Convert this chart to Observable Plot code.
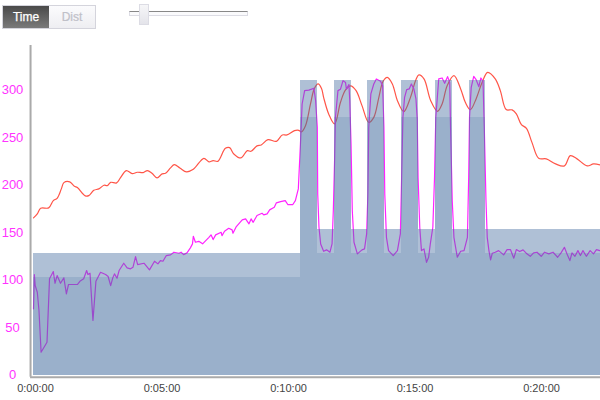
<!DOCTYPE html>
<html>
<head>
<meta charset="utf-8">
<script src="https://cdn.jsdelivr.net/npm/d3@7"></script>
<script src="https://cdn.jsdelivr.net/npm/@observablehq/plot@0.6"></script>
<style>
html,body{margin:0;padding:0;background:#fff;overflow:hidden;font-family:"Liberation Sans",Arial,sans-serif}
#controls{position:relative;height:40px;width:600px}
#seg{position:absolute;left:2px;top:5px;width:94px;height:24px;box-sizing:border-box;border:1px solid #d4d4dc;display:flex;font-size:12px;line-height:22px;text-align:center}
#seg .on{width:46px;background:linear-gradient(#4a4a4a,#7a7a7a);color:#fff;-webkit-text-stroke:0.25px #fff}
#seg .off{flex:1;background:linear-gradient(#fbfbfd,#eeeef2);color:#c0c0c8;-webkit-text-stroke:0.2px #c0c0c8}
#track{position:absolute;left:129px;top:11px;width:119px;height:5px;box-sizing:border-box;border:1px solid #dcdce4;border-top:1.5px solid #888;background:#fafafc}
#thumb{position:absolute;left:139px;top:4px;width:10px;height:21px;box-sizing:border-box;border:1px solid #dcdce4;background:linear-gradient(#f6f6f8,#e4e4ea)}
svg{display:block}
</style>
</head>
<body>
<div id="controls">
  <div id="seg"><div class="on">Time</div><div class="off">Dist</div></div>
  <div id="track"></div><div id="thumb"></div>
</div>
<div id="chart"></div>
<script>
const yTicks = [0, 50, 100, 150, 200, 250, 300];
const xTicks = [0, 300, 600, 900, 1200];

const hrTime = [0,9,17,36,47,56,66,72,86,97,104,123,131,143,155,167,175,183,197,206,220,234,246,260,270,281,293,305,313,325,334,347,363,379,404,416,426,437,455,465,475,492,507,516,530,540,556,576,590,601,619,629,635,645,657,666,675,683,688,700,714,728,740,752,765,779,795,807,819,829,839,851,863,878,894,906,914,926,942,958,969,981,997,1013,1024,1036,1050,1064,1077,1095,1107,1121,1135,1145,1157,1169,1182,1198,1216,1238,1259,1273,1289,1313,1328,1344];
const hrValue = [165.5,169.7,175.6,176,183.7,186.1,196,202.6,203.4,198.7,197.4,188.6,188.9,194.5,196,199.8,199.5,202.9,202.3,207.6,215.3,212.1,213.5,213.2,215.3,212.4,207.6,211.8,212.4,218.1,221.6,218.1,213.9,216.6,228.2,224.4,225.8,225,238.7,239.5,232.8,228.6,236.3,235.6,241.3,242.3,247.9,246.1,252.8,252.8,257.4,257.7,256,262.6,285.8,301.6,306.5,301.6,292.4,274.9,264.4,287.2,300.2,304.5,299.4,283.7,266.1,271.3,292.4,309.3,313.5,306.5,288.9,277.4,292.4,310,316,311.8,288.9,277.7,285.5,304.7,315.3,301.3,287.2,279.5,291.3,308.3,318.7,311.8,299.5,279.5,279.2,275,263.7,259.8,245,228.2,227.6,222.3,220.2,231,227.6,220.2,222.3,221.3];

const powerTime = [0,2,4,9,13,18,32,38,47,51,56,64,72,78,83,104,110,119,126,129,134,141,144,148,159,171,177,183,188,192,198,203,214,222,230,236,242,247,262,275,287,295,301,307,315,325,333,345,350,356,364,372,377,379,384,392,401,416,421,426,432,445,447,453,463,471,473,481,495,503,511,516,521,530,542,546,554,560,571,576,586,597,603,615,621,625,628,633,637,643,653,665,669,673,674,677,681,688,695,703,708,711,714,716,722,728,734,740,742,748,750,753,756,760,768,779,785,790,793,795,800,807,813,823,828,831,833,837,842,853,863,870,873,876,880,885,891,896,902,907,910,912,916,920,926,932,937,941,947,951,954,961,969,975,982,987,989,993,997,1005,1013,1021,1029,1032,1034,1038,1044,1050,1056,1061,1066,1069,1073,1076,1080,1084,1088,1095,1103,1115,1123,1131,1139,1145,1153,1161,1170,1178,1186,1194,1204,1212,1222,1232,1243,1251,1259,1265,1272,1277,1284,1291,1297,1303,1311,1320,1328,1335,1343];
const powerValue = [69.7,105.8,94.2,87.2,67.9,24,34.5,101.3,108.9,96.6,104.7,96.6,102.3,85.5,95.3,95.3,98.7,101.3,110,105.8,107.2,57.4,74.9,98.7,108.2,105.8,103.7,94.2,102.3,106.5,101.9,110,117.7,112.8,111.8,113.5,124.7,116.3,117.7,110.7,119.8,117,120.5,119.8,125.8,126.5,129.3,128.2,129.3,126.8,128.6,133.9,138.1,146.1,139.8,140.8,138.1,145,147.6,142.6,147.6,150.3,146.8,151.4,154.5,152.8,149.3,156.3,163.4,164.4,159.2,164.4,160.8,167.9,170.3,168.6,169.7,173.9,176.6,181.3,182.6,183.7,179.5,179.5,183.7,190.7,196,243,285.4,299.5,300,302,289,261,190.7,155.6,138,130.3,131.8,129.3,138,173,225.8,271.4,299.5,301,310,308,301,305.8,289,243.4,173,139.8,127.6,131.8,132.8,148.6,191,261,296,306.5,311.8,309.3,304.7,261,190.7,145,131,125.8,131,148.6,208,271.4,292.4,300.5,301.3,306.5,301.3,290.7,269.7,208,155.6,131,132.8,118.7,124,138,155.6,208,271.4,311.8,312.8,307.2,314.2,308.2,261,183.7,145,124,130.3,131,145,208,271.4,303,314.5,310.7,303.7,312.8,309.3,261,183.7,145,131,121.3,128.2,129.3,131,126.5,132.1,132.1,123,132.1,130,131.8,127.6,125,128.6,129.3,125,129.3,127.6,129.3,124,128.6,134.5,127.6,120.5,128.6,125,131,125.8,131,125,131,127.6,132.1,131];

const stepStart = [0,633,673,713,753,793,833,873,913,953,993,1033,1073];
const stepEnd   = [633,673,713,753,793,833,873,913,953,993,1033,1073,1345];
const stepUpper = [128,310,153,310,153,310,153,310,153,310,153,310,153];
const stepLower = [103,271,128,271,128,271,128,271,128,271,128,271,128];

const hr = hrTime.map((t, i) => ({t, v: hrValue[i]}));
const power = powerTime.map((t, i) => ({t, v: powerValue[i]}));
const steps = stepStart.map((s, i) => ({s, e: stepEnd[i], upper: stepUpper[i], lower: stepLower[i]}));

const fmt = s => `${Math.floor(s / 3600)}:${String(Math.floor(s / 60) % 60).padStart(2, "0")}:${String(s % 60).padStart(2, "0")}`;

const chart = Plot.plot({
  width: 600,
  height: 360,
  marginLeft: 33,
  marginRight: 0,
  marginTop: 5,
  marginBottom: 25.5,
  style: {fontFamily: '"Liberation Sans", Arial, sans-serif', background: "transparent", overflow: "visible"},
  x: {domain: [0, 1344.6], axis: null},
  y: {domain: [0, 347], axis: null},
  marks: [
    Plot.line(hr, {x: "t", y: "v", stroke: "#ff5548", strokeWidth: 1.2, curve: "catmull-rom"}),
    Plot.line(power, {x: "t", y: "v", stroke: "#ff22ff", strokeWidth: 1.2}),
    Plot.rect(steps, {x1: "s", x2: "e", y1: () => 0, y2: "upper", fill: "#476ea0", fillOpacity: 0.435, shapeRendering: "crispEdges"}),
    Plot.rect(steps, {x1: "s", x2: "e", y1: () => 0, y2: "lower", fill: "#476ea0", fillOpacity: 0.195, shapeRendering: "crispEdges"}),
    Plot.ruleX([-7], {y1: -2.5, y2: 347, stroke: "#aaa", strokeWidth: 2}),
    Plot.ruleY([-2.5], {x1: -7, x2: 1345, stroke: "#aaa", strokeWidth: 2}),
    Plot.axisY({ticks: yTicks, anchor: "left", tickSize: 0, tickPadding: 21, textAnchor: "middle", fontSize: 13, fill: "#ff33ff", label: null}),
    Plot.axisX({ticks: xTicks, anchor: "bottom", tickSize: 0, tickPadding: 9, tickFormat: fmt, fontSize: 11, fill: "#444", dx: 2, label: null})
  ]
});
document.getElementById("chart").appendChild(chart);
</script>
</body>
</html>
